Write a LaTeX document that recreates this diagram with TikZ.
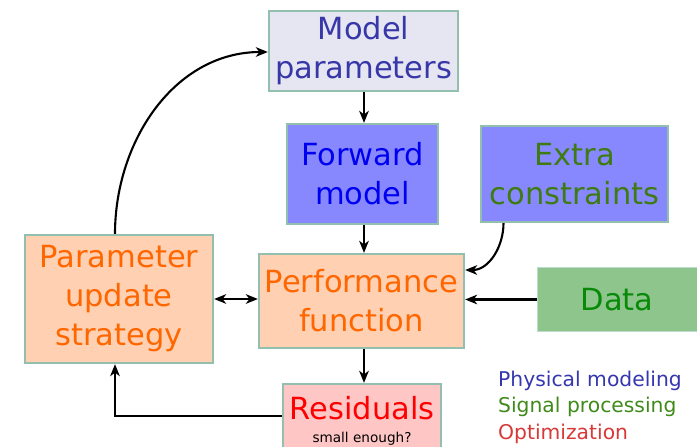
\documentclass[tikz,border=0pt]{standalone}
\usepackage{fontspec}
\setmainfont{DejaVu Sans}
\usetikzlibrary{arrows.meta}

\definecolor{boxline}{HTML}{92BFAE}
\definecolor{paramfill}{HTML}{E6E6F3}
\definecolor{paramtext}{HTML}{3737A8}
\definecolor{physfill}{HTML}{8888FE}
\definecolor{phystext}{HTML}{0000F0}
\definecolor{sigtext}{HTML}{3E7B12}
\definecolor{optfill}{HTML}{FFD0B1}
\definecolor{opttext}{HTML}{FF6600}
\definecolor{datafill}{HTML}{8DC58D}
\definecolor{datatext}{HTML}{088A08}
\definecolor{resfill}{HTML}{FFC6C6}
\definecolor{restext}{HTML}{FF0000}
\definecolor{legblue}{HTML}{3636B0}
\definecolor{leggreen}{HTML}{3F8A1A}
\definecolor{legred}{HTML}{D83838}

\tikzset{
  blk/.style={draw=boxline, line width=2.2pt, inner sep=0pt, align=center,
    font=\fontsize{30.5}{39}\selectfont},
  tip/.tip={Stealth[length=12pt,width=9.5pt,inset=3.5pt]},
  flow/.style={line width=2.1pt, -tip},
  flow2/.style={line width=2.1pt, tip-tip},
  legend/.style={anchor=base west, inner sep=0pt, font=\fontsize{20.3}{24}\selectfont}
}

\begin{document}
\begin{tikzpicture}[x=1pt, y=-1pt]
  \useasboundingbox (0,0) rectangle (697,447);

  % blocks
  \node[blk, fill=paramfill, text=paramtext, minimum width=189, minimum height=80]
    (model) at (363.5,51) {Model\\parameters};
  \node[blk, fill=physfill, text=phystext, minimum width=151, minimum height=100]
    (fwd) at (362.5,174) {Forward\\model};
  \node[blk, fill=physfill, text=sigtext, minimum width=187, minimum height=96]
    (extra) at (574.5,174) {Extra\\constraints};
  \node[blk, fill=optfill, text=opttext, minimum width=188, minimum height=128]
    (upd) at (119,299) {Parameter\\update\\strategy};
  \node[blk, fill=optfill, text=opttext, minimum width=205, minimum height=94]
    (perf) at (361.5,301) {Performance\\function};
  \node[blk, draw=boxline!60, line width=1pt, fill=datafill, text=datatext,
    minimum width=160, minimum height=64]
    (data) at (617,299.5) {Data};
  \node[blk, fill=resfill, minimum width=158, minimum height=76]
    (res) at (362,422) {};
  \node[anchor=base, inner sep=0pt, text=restext, font=\fontsize{30.5}{36}\selectfont]
    (restitle) at (362,419) {Residuals};
  \node[anchor=base, inner sep=0pt, font=\fontsize{13.6}{16}\selectfont]
    (resnote) at (362,442) {small enough?};

  % connectors
  \draw[flow] ([xshift=0.5pt]model.south) -- ([xshift=0.5pt]model.south |- fwd.north);
  \draw[flow] ([xshift=1.5pt]fwd.south) -- ([xshift=1.5pt]fwd.south |- perf.north);
  \draw[flow] ([xshift=-71pt]extra.south) to[out=-90, in=0] ([yshift=31pt]perf.east);
  \draw[flow] (data.west) -- (data.west -| perf.east);
  \draw[flow2] (upd.east) -- (upd.east -| perf.west);
  \draw[flow] ([xshift=2.5pt]perf.south) -- ([xshift=2.5pt]perf.south |- res.north);
  \draw[flow] ([yshift=6pt]res.west) -| ([xshift=-4pt]upd.south);
  \draw[flow] ([xshift=-4pt]upd.north) to[out=90, in=180] ([yshift=-1pt]model.west);

  % legend
  \node[legend, text=legblue] (l1) at (498,386) {Physical modeling};
  \node[legend, text=leggreen] (l2) at (498,412.5) {Signal processing};
  \node[legend, text=legred] (l3) at (498,439) {Optimization};
\end{tikzpicture}
\end{document}
